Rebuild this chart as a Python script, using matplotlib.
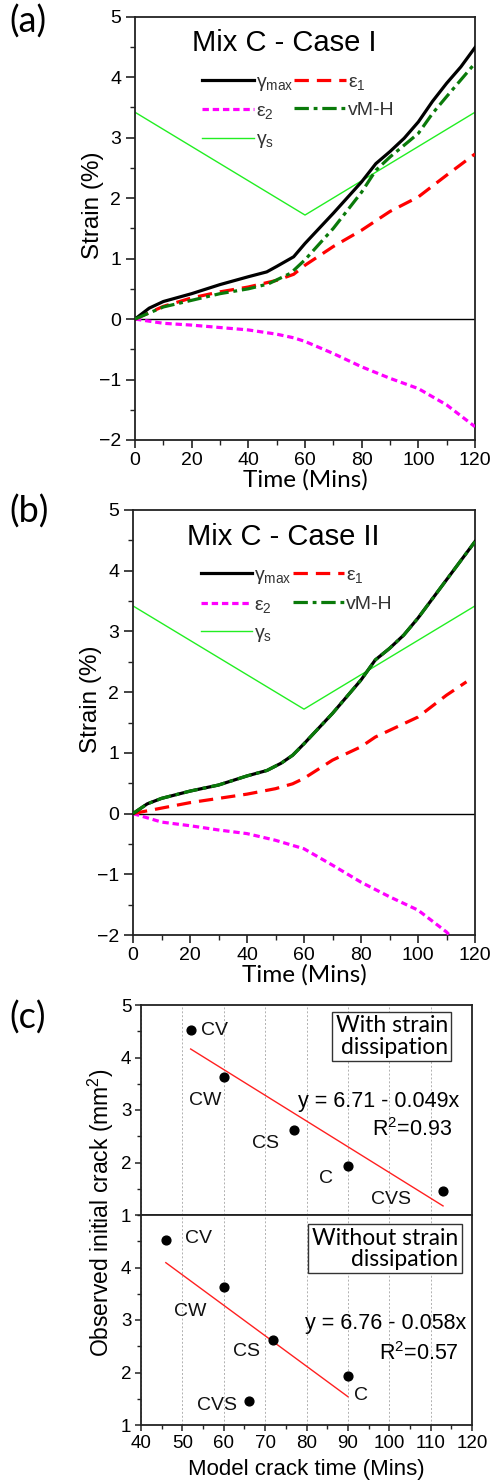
import matplotlib
matplotlib.use("Agg")
import matplotlib.pyplot as plt
import numpy as np
from matplotlib.ticker import MultipleLocator
from matplotlib.lines import Line2D

plt.rcParams['font.family'] = ['Liberation Sans', 'DejaVu Sans']
plt.rcParams['mathtext.fontset'] = 'custom'
plt.rcParams['mathtext.rm'] = 'Liberation Sans'
plt.rcParams['mathtext.it'] = 'Liberation Sans'

# ---------------- data ----------------
# Panel (a) Mix C - Case I
t_a = [0, 5, 10, 20, 30, 40, 46.5, 50, 56, 60, 70, 80, 85, 90, 95, 100, 105, 110, 115, 120]
gmax_a = [0, 0.18, 0.29, 0.42, 0.57, 0.70, 0.78, 0.87, 1.03, 1.25, 1.75, 2.27, 2.57, 2.77, 2.99, 3.26, 3.60, 3.90, 4.17, 4.49]
t_a_vm = [0, 10, 20, 30, 40, 47, 55, 60, 70, 80, 85, 90, 100, 105, 110, 120]
vm_a = [0, 0.20, 0.31, 0.42, 0.50, 0.58, 0.76, 0.98, 1.50, 2.10, 2.46, 2.68, 3.07, 3.40, 3.68, 4.23]
t_a_e = [0, 10, 20, 30, 40, 50, 56, 60, 70, 80, 90, 100, 110, 120]
e1_a = [0, 0.21, 0.35, 0.45, 0.53, 0.64, 0.74, 0.89, 1.20, 1.47, 1.78, 2.02, 2.38, 2.73]
e2_a = [0, -0.07, -0.10, -0.14, -0.18, -0.25, -0.31, -0.37, -0.57, -0.79, -0.98, -1.15, -1.42, -1.78]

# Panel (b) Mix C - Case II
t_b = [0, 5, 10, 20, 30, 40, 47, 52, 56, 60, 70, 80, 85, 90, 95, 100, 110, 120]
gmax_b = [0, 0.16, 0.25, 0.37, 0.47, 0.62, 0.71, 0.83, 0.96, 1.15, 1.65, 2.20, 2.53, 2.72, 2.94, 3.22, 3.85, 4.48]
vm_b = gmax_b
t_b_e1 = [0, 10, 20, 30, 40, 50, 56, 60, 70, 80, 85, 90, 100, 110, 117]
e1_b = [0, 0.09, 0.18, 0.25, 0.32, 0.41, 0.49, 0.58, 0.88, 1.10, 1.26, 1.37, 1.59, 1.95, 2.17]
t_b_e2 = [0, 10, 20, 30, 40, 50, 60, 70, 80, 90, 100, 110, 112]
e2_b = [0, -0.14, -0.20, -0.27, -0.33, -0.44, -0.58, -0.85, -1.13, -1.37, -1.59, -1.95, -2.05]

# gamma_s (same for both)
t_s = [0, 60, 120]
gs = [3.42, 1.72, 3.42]

# Panel (c)
mixes = ['CV', 'CW', 'CS', 'C', 'CVS']
crack = [4.52, 3.63, 2.61, 1.94, 1.45]
time_with = [52, 60, 77, 90, 113]
time_without = [46, 60, 72, 90, 66]
fit_with = (6.71, -0.049)
fit_without = (6.76, -0.058)

# ---------------- layout helpers ----------------
W, H = 496, 1482
fig = plt.figure(figsize=(W / 100, H / 100), dpi=100)

def rect(l, r, t, b):
    return [l / W, 1 - b / H, (r - l) / W, (b - t) / H]

spine_c = '#222222'

def style_strain_axes(ax):
    ax.set_xlim(0, 120)
    ax.set_ylim(-2, 5)
    ax.xaxis.set_major_locator(MultipleLocator(20))
    ax.xaxis.set_minor_locator(MultipleLocator(10))
    ax.yaxis.set_major_locator(MultipleLocator(1))
    ax.yaxis.set_minor_locator(MultipleLocator(0.5))
    ax.tick_params(which='both', direction='out', top=False, right=False, color=spine_c)
    ax.tick_params(axis='x', which='major', length=5.5, width=1.2, labelsize=14, pad=3)
    ax.tick_params(axis='y', which='major', length=6.5, width=1.2, labelsize=14, pad=3.5)
    ax.tick_params(axis='x', which='minor', length=3.5, width=1.0)
    ax.tick_params(axis='y', which='minor', length=3.6, width=1.0)
    for s in ax.spines.values():
        s.set_linewidth(1.3)
        s.set_color(spine_c)
    ax.axhline(0, color='black', lw=1.0, zorder=1)
    ax.set_ylabel('Strain (%)', fontsize=17.5)
    ax.yaxis.set_label_coords(-0.09, 0.555)
    ax.set_xlabel('Time (Mins)', fontsize=17.5, fontfamily='Lato', labelpad=0)

LW = 2.3
def plot_strain(ax, tg, g, tv, v, te1, e1, te2, e2, title):
    ax.plot(t_s, gs, color='#22ee22', lw=1.0, zorder=2)
    ax.plot(te2, e2, color='#ff00ff', lw=LW, linestyle=(0, (2, 1.2)), zorder=3)
    ax.plot(te1, e1, color='#ff0000', lw=LW, linestyle=(0, (4.5, 2.5)), zorder=3)
    ax.plot(tg, g, color='black', lw=LW, zorder=4)
    ax.plot(tv, v, color='#0a7a0a', lw=LW, linestyle=(0, (4.5, 1.5, 1.2, 1.5)), zorder=5)
    ax.text(0.44, 0.937, title, transform=ax.transAxes, ha='center', va='center', fontsize=21)
    handles = [
        Line2D([], [], color='black', lw=LW),
        Line2D([], [], color='#ff00ff', lw=LW, linestyle=(0, (2, 1.2))),
        Line2D([], [], color='#22ee22', lw=1.0),
        Line2D([], [], color='#ff0000', lw=LW, linestyle=(0, (4.5, 2.5))),
        Line2D([], [], color='#0a7a0a', lw=LW, linestyle=(0, (4.5, 1.5, 1.2, 1.5))),
    ]
    labels = ['γ$_{\\mathregular{max}}$', 'ε$_{\\mathregular{2}}$', 'γ$_{\\mathregular{s}}$',
              'ε$_{\\mathregular{1}}$', 'vM-H']
    leg = ax.legend(handles, labels, loc='upper left', bbox_to_anchor=(0.175, 0.885),
                    ncol=2, frameon=False, fontsize=14, handlelength=2.65,
                    handletextpad=0.1, columnspacing=0.05, labelspacing=0.5,
                    borderaxespad=0)
    for txt in leg.get_texts():
        txt.set_color('#333333')

ax_a = fig.add_axes(rect(135, 475, 16.7, 440))
plot_strain(ax_a, t_a, gmax_a, t_a_vm, vm_a, t_a_e, e1_a, t_a_e, e2_a, 'Mix C - Case I')
style_strain_axes(ax_a)

ax_b = fig.add_axes(rect(133, 475, 510, 935))
plot_strain(ax_b, t_b, gmax_b, t_b, vm_b, t_b_e1, e1_b, t_b_e2, e2_b, 'Mix C - Case II')
style_strain_axes(ax_b)

# ---------------- panel (c) ----------------
ax_c1 = fig.add_axes(rect(141, 472, 1005, 1215))
ax_c2 = fig.add_axes(rect(141, 472, 1215, 1425), sharex=ax_c1)

def style_c(ax, bottom):
    ax.set_xlim(40, 120)
    ax.set_ylim(1, 5)
    ax.xaxis.set_major_locator(MultipleLocator(10))
    ax.xaxis.set_minor_locator(MultipleLocator(5))
    ax.yaxis.set_major_locator(MultipleLocator(1))
    ax.yaxis.set_minor_locator(MultipleLocator(0.5))
    ax.tick_params(which='both', direction='out', top=False, right=False, color=spine_c)
    ax.tick_params(which='major', length=4, width=1.1, labelsize=13.5, pad=3)
    ax.tick_params(which='minor', length=3, width=1.0)
    ax.grid(axis='x', which='major', color='#b0b0b0', lw=0.7, linestyle=(0, (2, 2)))
    for s in ax.spines.values():
        s.set_linewidth(1.3)
        s.set_color(spine_c)
    if not bottom:
        ax.tick_params(axis='x', which='both', labelbottom=False, length=0)
    else:
        ax.set_yticks([1, 2, 3, 4])
        ax.yaxis.set_minor_locator(MultipleLocator(0.5))

def plot_c(ax, times, fit, label_pos, eq_pos, r2_pos, eq_text, r2_text):
    ax.scatter(times, crack, s=40, color='black', zorder=5)
    xs = np.array([min(times), max(times)])
    ax.plot(xs, fit[0] + fit[1] * xs, color='#ff2020', lw=1.0, zorder=3)
    for name, (lx, ly) in zip(mixes, label_pos):
        ax.text(lx, ly, name, ha='center', va='center', fontsize=14, color='#111111')
    ax.text(eq_pos[0], eq_pos[1], eq_text, ha='right', va='center', fontsize=15.5)
    ax.text(r2_pos[0], r2_pos[1], r2_text, ha='right', va='center', fontsize=15.5)

style_c(ax_c1, False)
style_c(ax_c2, True)

plot_c(ax_c1, time_with, fit_with,
       [(57.8, 4.52), (55.6, 3.19), (70.0, 2.37), (84.7, 1.70), (100.5, 1.29)],
       (116.8, 3.16), (115.1, 2.62), 'y = 6.71 - 0.049x', 'R$^{\\mathregular{2}}$=0.93')
plot_c(ax_c2, time_without, fit_without,
       [(54.0, 4.56), (51.9, 3.16), (65.5, 2.40), (93.2, 1.57), (58.3, 1.38)],
       (118.7, 2.94), (116.8, 2.37), 'y = 6.76 - 0.058x', 'R$^{\\mathregular{2}}$=0.57')

ax_c1.text(0.927, 0.950, 'With strain\ndissipation', transform=ax_c1.transAxes, ha='right', va='top',
           fontsize=16.5, fontfamily='Lato', linespacing=1.0,
           bbox=dict(boxstyle='square,pad=0.15', fc='white', ec='#333333', lw=1.0))
ax_c2.text(0.958, 0.940, 'Without strain\ndissipation', transform=ax_c2.transAxes, ha='right', va='top',
           fontsize=16.5, fontfamily='Lato', linespacing=1.0,
           bbox=dict(boxstyle='square,pad=0.15', fc='white', ec='#333333', lw=1.0))

ax_c2.set_xlabel('Model crack time (Mins)', fontsize=16, labelpad=5)
fig.text(101 / W, 1 - 1213 / H, 'Observed initial crack (mm$^{\\mathregular{2}}$)', rotation=90,
         ha='center', va='center', fontsize=16.5)

# panel labels
for lab, y in [('(a)', 22), ('(b)', 512), ('(c)', 1018)]:
    fig.text(9 / W, 1 - y / H, lab, fontsize=26, fontfamily='Lato', ha='left', va='center')

fig.savefig('out.png', dpi=100)
